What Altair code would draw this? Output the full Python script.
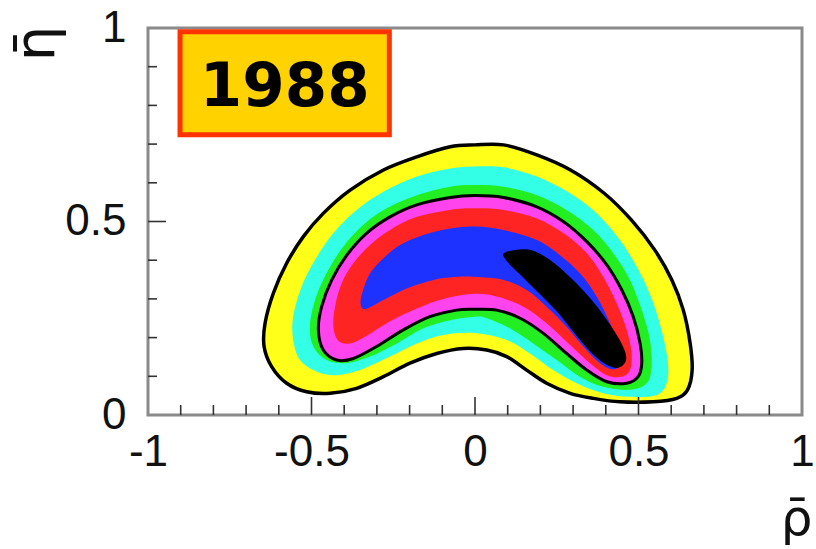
import altair as alt
import pandas as pd

# ---- contour polygons (rho-bar, eta-bar), outermost to innermost ----
outer_x = [0, -0.076, -0.178, -0.280, -0.382, -0.464, -0.525, -0.576, -0.617, -0.642,
           -0.645, -0.622, -0.576, -0.515, -0.443, -0.362, -0.280, -0.199, -0.117, -0.036,
           0.036, 0.097, 0.158, 0.219, 0.291, 0.362, 0.443, 0.545, 0.617, 0.650,
           0.664, 0.658, 0.637, 0.602, 0.550, 0.478, 0.395, 0.292, 0.189, 0.087]
outer_y = [0.698, 0.693, 0.667, 0.633, 0.581, 0.521, 0.461, 0.392, 0.314, 0.237,
           0.177, 0.125, 0.082, 0.060, 0.056, 0.069, 0.099, 0.134, 0.159, 0.172,
           0.168, 0.151, 0.116, 0.082, 0.056, 0.043, 0.034, 0.034, 0.043, 0.065,
           0.116, 0.185, 0.271, 0.349, 0.426, 0.504, 0.573, 0.633, 0.672, 0.698]

cyan_x = [0, -0.076, -0.178, -0.280, -0.362, -0.433, -0.489, -0.530, -0.556, -0.556,
          -0.535, -0.484, -0.423, -0.352, -0.260, -0.178, -0.097, 0, 0.097, 0.168,
          0.239, 0.311, 0.392, 0.474, 0.556, 0.586, 0.590, 0.573, 0.542, 0.500,
          0.443, 0.372, 0.291, 0.189, 0.087]
cyan_y = [0.642, 0.637, 0.616, 0.577, 0.530, 0.470, 0.401, 0.332, 0.254, 0.194,
          0.142, 0.112, 0.103, 0.116, 0.151, 0.185, 0.207, 0.212, 0.194, 0.159,
          0.116, 0.082, 0.056, 0.047, 0.052, 0.082, 0.134, 0.211, 0.297, 0.375,
          0.452, 0.521, 0.573, 0.616, 0.640]

green_x = [0, -0.076, -0.178, -0.270, -0.342, -0.403, -0.454, -0.489, -0.505, -0.494,
           -0.454, -0.392, -0.321, -0.239, -0.158, -0.076, 0, 0.036, 0.107, 0.178,
           0.250, 0.321, 0.392, 0.474, 0.525, 0.540, 0.535, 0.510, 0.474, 0.423,
           0.362, 0.280, 0.189, 0.087]
green_y = [0.594, 0.590, 0.568, 0.534, 0.491, 0.435, 0.366, 0.297, 0.228, 0.177,
           0.142, 0.134, 0.151, 0.185, 0.224, 0.245, 0.254, 0.250, 0.224, 0.185,
           0.142, 0.099, 0.073, 0.065, 0.082, 0.125, 0.194, 0.271, 0.349, 0.418,
           0.478, 0.530, 0.568, 0.590]

magenta_x = [0, -0.076, -0.178, -0.260, -0.331, -0.392, -0.438, -0.469, -0.479, -0.464,
             -0.423, -0.372, -0.301, -0.219, -0.138, -0.056, 0, 0.066, 0.138, 0.209,
             0.280, 0.342, 0.403, 0.464, 0.499, 0.510, 0.505, 0.484, 0.449, 0.403,
             0.342, 0.270, 0.189, 0.087]
magenta_y = [0.567, 0.562, 0.543, 0.512, 0.470, 0.413, 0.349, 0.280, 0.220, 0.168,
             0.142, 0.146, 0.177, 0.220, 0.254, 0.271, 0.273, 0.271, 0.250, 0.211,
             0.159, 0.116, 0.086, 0.082, 0.099, 0.134, 0.185, 0.254, 0.323, 0.388,
             0.448, 0.500, 0.538, 0.562]

red_x = [0, -0.076, -0.178, -0.260, -0.321, -0.372, -0.408, -0.428, -0.433, -0.418,
         -0.382, -0.331, -0.260, -0.178, -0.097, 0, 0.066, 0.148, 0.219, 0.291,
         0.352, 0.403, 0.449, 0.474, 0.479, 0.464, 0.433, 0.392, 0.342, 0.270,
         0.189, 0.087]
red_y = [0.534, 0.530, 0.512, 0.478, 0.439, 0.392, 0.340, 0.280, 0.228, 0.192,
         0.185, 0.205, 0.242, 0.275, 0.300, 0.313, 0.306, 0.280, 0.237, 0.181,
         0.134, 0.103, 0.099, 0.116, 0.159, 0.220, 0.289, 0.357, 0.418, 0.470,
         0.508, 0.530]

blue_x = [0, -0.076, -0.158, -0.229, -0.280, -0.321, -0.342, -0.350, -0.335, -0.280,
          -0.209, -0.127, -0.056, 0, 0.087, 0.158, 0.219, 0.280, 0.331, 0.382,
          0.423, 0.445, 0.440, 0.413, 0.372, 0.321, 0.260, 0.189, 0.087]
blue_y = [0.487, 0.482, 0.465, 0.439, 0.405, 0.366, 0.323, 0.289, 0.274, 0.297,
          0.327, 0.349, 0.357, 0.357, 0.349, 0.323, 0.280, 0.228, 0.177, 0.134,
          0.118, 0.134, 0.177, 0.237, 0.306, 0.366, 0.413, 0.452, 0.478]

core_x = [0.092, 0.158, 0.222, 0.296, 0.362, 0.416, 0.452, 0.462, 0.438, 0.398,
          0.355, 0.304, 0.248, 0.186, 0.134, 0.094]
core_y = [0.420, 0.428, 0.405, 0.352, 0.292, 0.230, 0.178, 0.142, 0.122, 0.132,
          0.162, 0.212, 0.270, 0.323, 0.366, 0.401]

# ---- axis ticks ----
x_major_ticks = [-0.5, 0, 0.5]
x_minor_ticks = [-0.9, -0.8, -0.7, -0.6, -0.4, -0.3, -0.2, -0.1,
                 0.1, 0.2, 0.3, 0.4, 0.6, 0.7, 0.8, 0.9]
y_major_ticks = [0.5]
y_minor_ticks = [0.1, 0.2, 0.3, 0.4, 0.6, 0.7, 0.8, 0.9]
x_labels = [-1, -0.5, 0, 0.5, 1]
y_labels = [0, 0.5, 1]

W, H = 654, 387
LABEL_FONT = "Liberation Sans"

xscale = alt.Scale(domain=[-1, 1], nice=False, zero=False)
yscale = alt.Scale(domain=[0, 1], nice=False, zero=False)

xaxis = alt.Axis(values=x_labels, labelExpr="'' + datum.value", ticks=False, domain=False,
                 grid=False, labelFlush=False, labelFont=LABEL_FONT, labelFontSize=44,
                 labelColor="#111", labelPadding=15, title="\u03c1\u0304",
                 titleFont="DejaVu Sans", titleFontSize=50, titleFontWeight="normal",
                 titleColor="#111", titleX=648, titleY=119, titleAlign="center",
                 titleBaseline="alphabetic", titleAnchor="start")
yaxis = alt.Axis(values=y_labels, labelExpr="'' + datum.value", ticks=False, domain=False,
                 grid=False, labelFlush=False, labelFont=LABEL_FONT, labelFontSize=44,
                 labelColor="#111", labelPadding=22, labelBaseline="middle",
                 title="\u03b7\u0304", titleFont="DejaVu Sans", titleFontSize=56,
                 titleFontWeight="normal", titleColor="#111", titleAngle=270,
                 titleX=-112, titleY=15, titleAlign="center", titleBaseline="middle",
                 titleAnchor="start")


def X(field):
    return alt.X(field, type="quantitative", scale=xscale, axis=xaxis)


def Y(field):
    return alt.Y(field, type="quantitative", scale=yscale, axis=yaxis)


def contour(xs, ys, fill, stroke=None, sw=0):
    df = pd.DataFrame({"x": xs, "y": ys, "i": list(range(len(xs)))})
    props = dict(filled=True, fill=fill, interpolate="cardinal-closed", opacity=1)
    if stroke:
        props.update(stroke=stroke, strokeWidth=sw)
    else:
        props.update(strokeWidth=0, stroke=fill)
    return alt.Chart(df).mark_line(**props).encode(x=X("x"), y=Y("y"), order="i:Q")


layers = [
    contour(outer_x, outer_y, "#FFFF1A", "#000000", 3.5),
    contour(cyan_x, cyan_y, "#33FFE6"),
    contour(green_x, green_y, "#22EE22"),
    contour(magenta_x, magenta_y, "#FF44EE", "#000000", 3),
    contour(red_x, red_y, "#FF2424"),
    contour(blue_x, blue_y, "#1E32FF"),
    contour(core_x, core_y, "#000000"),
]

# year box
box = alt.Chart(pd.DataFrame({"a": [0]})).mark_rect(
    fill="#FFD200", stroke="#FF3300", strokeWidth=5
).encode(
    x=alt.datum(-0.902, scale=xscale, axis=xaxis, type="quantitative"),
    x2=alt.datum(-0.262),
    y=alt.datum(0.990, scale=yscale, axis=yaxis, type="quantitative"),
    y2=alt.datum(0.724),
)
year = alt.Chart(pd.DataFrame({"a": [0]})).mark_text(
    text="1988", font="DejaVu Sans", fontWeight="bold", fontSize=61,
    color="#000000", align="center", baseline="middle", dy=3
).encode(
    x=alt.datum(-0.582, scale=xscale, axis=xaxis, type="quantitative"),
    y=alt.datum(0.853, scale=yscale, axis=yaxis, type="quantitative"),
)

tick_color = "#333333"


def xticks(vals, length):
    df = pd.DataFrame({"t": vals})
    return alt.Chart(df).mark_rule(color=tick_color, strokeWidth=1.6).encode(
        x=X("t"), y=alt.value(H), y2=alt.value(H - length))


def yticks(vals, length):
    df = pd.DataFrame({"t": vals})
    return alt.Chart(df).mark_rule(color=tick_color, strokeWidth=1.6).encode(
        y=Y("t"), x=alt.value(0), x2=alt.value(length))


layers += [box, year,
           xticks(x_minor_ticks, 10), xticks(x_major_ticks, 18),
           yticks(y_minor_ticks, 9), yticks(y_major_ticks, 18)]

chart = alt.layer(*layers).properties(
    width=W, height=H,
    autosize=alt.AutoSizeParams(type="none"),
    padding={"left": 148, "top": 28, "right": 14, "bottom": 134},
    background="white",
).configure_view(stroke="#8a8a8a", strokeWidth=3)

chart.save("out.html", embed_options={"renderer": "svg", "actions": False})
